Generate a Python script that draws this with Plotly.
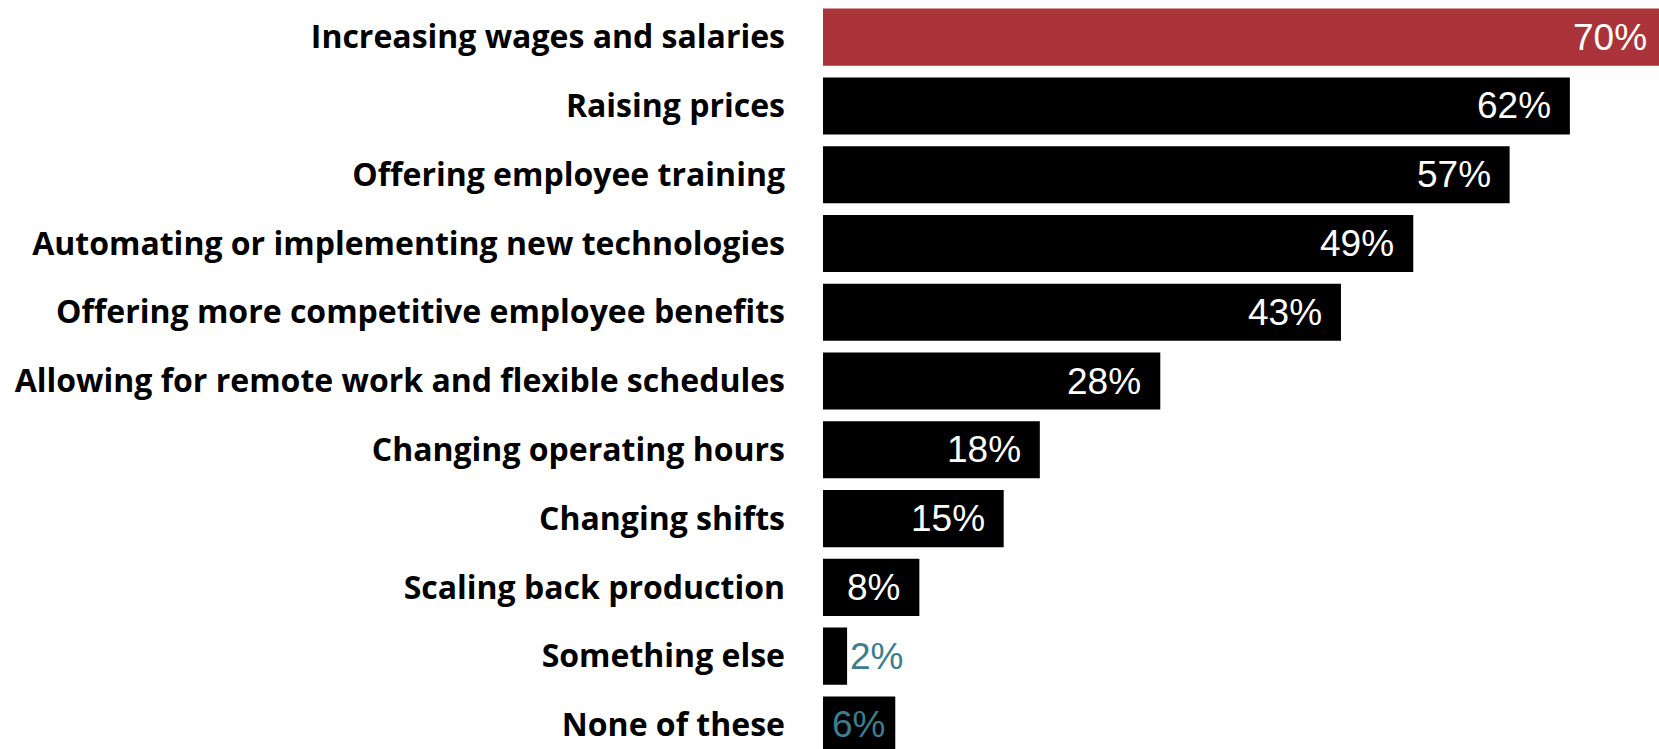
import plotly.graph_objects as go

# survey answers, top to bottom
categories = [
    "Increasing wages and salaries",
    "Raising prices",
    "Offering employee training",
    "Automating or implementing new technologies",
    "Offering more competitive employee benefits",
    "Allowing for remote work and flexible schedules",
    "Changing operating hours",
    "Changing shifts",
    "Scaling back production",
    "Something else",
    "None of these",
]
values = [70, 62, 57, 49, 43, 28, 18, 15, 8, 2, 6]
labels = ["70%", "62%", "57%", "49%", "43%", "28%", "18%", "15%", "8%", "2%", "6%"]

RED = "#ab343b"
TEAL = "#3c7d8e"

bar_colors = [RED] + ["#000000"] * (len(values) - 1)
label_colors = ["white"] * 9 + [TEAL, TEAL]

fig = go.Figure(go.Bar(
    x=values,
    y=categories,
    orientation="h",
    marker=dict(color=bar_colors, line=dict(width=0)),
    hoverinfo="skip",
))

# value labels: the head sits at 0 (always on screen) and the text sits at the
# tail = bar value, so the clipped 70% bar still gets its label
for cat, val, lab, col in zip(categories, values, labels, label_colors):
    outside = val < 4
    fig.add_annotation(
        x=0, y=cat, text=lab,
        showarrow=True, axref="x", ax=val, ay=0,
        arrowcolor="rgba(0,0,0,0)", arrowwidth=0.1,
        xanchor="left" if outside else "right",
        xshift=1 if outside else (-8 if val < 7 else -17),
        font=dict(family="Liberation Sans, Arial", size=37, color=col),
    )

fig.update_layout(
    width=1659, height=749,
    margin=dict(l=823, r=0, t=0, b=0, autoexpand=False),
    paper_bgcolor="white", plot_bgcolor="white",
    showlegend=False,
    bargap=0.17,
)
fig.update_xaxes(range=[0, 69.4], visible=False, fixedrange=True, automargin=False)
fig.update_yaxes(
    range=[10.35, -0.54],
    showgrid=False, zeroline=False, showline=False, ticks="",
    ticklabelstandoff=37, automargin=False,
    tickfont=dict(family="Open Sans", size=32, color="black", weight="bold"),
    fixedrange=True,
)

# drop the default 8px body margin so the chart sits flush in the window
fig.write_html(
    "out.html",
    config={"displayModeBar": False},
    post_script="document.body.style.margin='0';document.body.style.overflow='hidden';",
)
